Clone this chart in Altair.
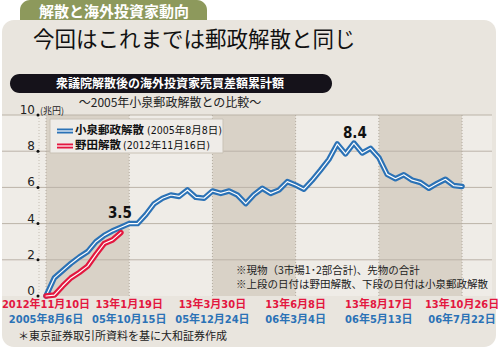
import altair as alt
import pandas as pd

# ---------------- data ----------------
weeks_koizumi = list(range(51))
koizumi = [0, 1.0, 1.4, 1.8, 2.15, 2.45, 3.0, 3.35, 3.6, 3.8,
           4.0, 4.0, 4.5, 5.1, 5.4, 5.58, 5.5, 5.86, 5.45, 5.4,
           5.8, 5.67, 5.8, 5.58, 5.1, 5.6, 5.95, 5.67, 5.86, 6.32,
           6.13, 5.9, 6.4, 6.96, 7.55, 8.4, 7.85, 8.45, 7.9, 8.16,
           7.65, 6.72, 6.48, 6.7, 6.4, 6.27, 5.95, 6.22, 6.45, 6.1, 6.05]
weeks_noda = list(range(10))
noda = [0, 0.05, 0.55, 1.0, 1.3, 1.65, 2.3, 2.9, 3.1, 3.5]

tick_weeks = [0, 10, 20, 30, 40, 50]
noda_dates = ["2012年11月10日", "13年1月19日", "13年3月30日", "13年6月8日", "13年8月17日", "13年10月26日"]
koizumi_dates = ["2005年8月6日", "05年10月15日", "05年12月24日", "06年3月4日", "06年5月13日", "06年7月22日"]
y_ticks = [0, 2, 4, 6, 8, 10]
grid_vals = [2, 4, 6, 8, 10]
band_start = [0, 20, 40]
band_end = [10, 30, 50]

# ---------------- style ----------------
JP = "Noto Sans CJK JP"
NUM = "'Liberation Sans Narrow', 'DejaVu Sans Condensed', 'Noto Sans CJK JP'"
BLUE = "#2b72b6"
RED = "#e3173f"
PANEL = "#e9e5de"
LIGHT = "#efece7"
SHADE = "#d9d2c7"
GRID = "#bbb3a8"

W, H = 490, 181
X_MIN, X_MAX = -5.29, 53.6
xs = alt.Scale(domain=[X_MIN, X_MAX], nice=False, zero=False)
ys = alt.Scale(domain=[0, 10], nice=False)

one = pd.DataFrame({"a": [1]})


def rect(x, x2, y, y2, color, r=0, stroke=None):
    kw = dict(color=color, cornerRadius=r)
    if stroke:
        kw.update(stroke=stroke, strokeWidth=1)
    return alt.Chart(one).mark_rect(**kw).encode(
        x=alt.value(x), x2=alt.value(x2), y=alt.value(y), y2=alt.value(y2))


def txt(s, x, y, size, color="#111", weight="normal", align="left", font=JP, baseline="middle"):
    return alt.Chart(one).mark_text(text=s, fontSize=size, color=color, fontWeight=weight,
                                    align=align, baseline=baseline, font=font).encode(
        x=alt.value(x), y=alt.value(y))


def hline(x, x2, y, color, width):
    return alt.Chart(one).mark_rule(color=color, strokeWidth=width).encode(
        x=alt.value(x), x2=alt.value(x2), y=alt.value(y))


layers = []
# tab + panel
layers.append(rect(18, 205, -115, -85, "#8d995c", r=10))
layers.append(rect(0, 494, -95, 232, PANEL, r=12))
layers.append(txt("解散と海外投資家動向", 112, -103, 15, "white", "bold", "center"))
layers.append(txt("今回はこれまでは郵政解散と同じ", 31, -74, 21.5, "#111"))
layers.append(rect(8, 330, -41, -22, "#15121a", r=9.5))
layers.append(txt("衆議院解散後の海外投資家売買差額累計額", 168, -31.5, 12, "white", "bold", "center"))
layers.append(txt("～2005年小泉郵政解散との比較～", 168, -12, 12, "#222", "normal", "center"))

# plot background and bands
layers.append(rect(0, W, 0, H, LIGHT))
bands = pd.DataFrame({"s": band_start, "e": band_end})
layers.append(alt.Chart(bands).mark_rect(color=SHADE).encode(
    x=alt.X("s:Q", scale=xs, axis=None), x2="e:Q", y=alt.value(0), y2=alt.value(H)))

# gridlines
grid = pd.DataFrame({"g": grid_vals})
layers.append(alt.Chart(grid).mark_rule(color=GRID, strokeWidth=1).encode(
    y=alt.Y("g:Q", scale=ys, axis=None), x=alt.value(0), x2=alt.value(W)))
vt = pd.DataFrame({"w": tick_weeks})
layers.append(alt.Chart(vt).mark_rule(color="#b3ab9f", strokeWidth=1, strokeDash=[1, 2]).encode(
    x=alt.X("w:Q", scale=xs, axis=None), y=alt.value(0), y2=alt.value(H)))
layers.append(alt.Chart(one).mark_rule(color="#c4bdb2", strokeWidth=1, strokeDash=[1, 2]).encode(
    x=alt.value(37), y=alt.value(0), y2=alt.value(H)))

# y labels + dots
yt = pd.DataFrame({"t": y_ticks, "lab": [str(v) for v in y_ticks]})
layers.append(alt.Chart(yt).mark_text(align="right", baseline="alphabetic", dy=-1, fontSize=12,
                                      font="'DejaVu Sans', sans-serif", color="#222").encode(
    x=alt.value(33), y=alt.Y("t:Q", scale=ys, axis=None), text="lab:N"))
layers.append(alt.Chart(yt).mark_circle(size=9, color="#111", opacity=1).encode(
    x=alt.value(36), y=alt.Y("t:Q", scale=ys, axis=None)))
layers.append(txt("(兆円)", 38, -4, 9, "#222"))

# lines
kdf = pd.DataFrame({"w": weeks_koizumi, "v": koizumi})
ndf = pd.DataFrame({"w": weeks_noda, "v": noda})
for df, col in [(kdf, BLUE), (ndf, RED)]:
    enc = dict(x=alt.X("w:Q", scale=xs, axis=None), y=alt.Y("v:Q", scale=ys, axis=None))
    layers.append(alt.Chart(df).mark_line(color=col, strokeWidth=5.5, strokeCap="round",
                                          strokeJoin="round").encode(**enc))
    layers.append(alt.Chart(df).mark_line(color="white", strokeWidth=1.2, strokeCap="round",
                                          strokeJoin="round").encode(**enc))

# value labels
lab35 = pd.DataFrame({"w": [weeks_noda[-1]], "v": [noda[-1]], "lab": ["3.5"]})
lab84 = pd.DataFrame({"w": [37], "v": [8.4], "lab": ["8.4"]})
layers.append(alt.Chart(lab35).mark_text(fontSize=15, fontWeight="bold", font=NUM, color="#111", dy=-20, dx=-1).encode(
    x=alt.X("w:Q", scale=xs, axis=None), y=alt.Y("v:Q", scale=ys, axis=None), text="lab:N"))
layers.append(alt.Chart(lab84).mark_text(fontSize=15, fontWeight="bold", font=NUM, color="#111", dy=-11, dx=1).encode(
    x=alt.X("w:Q", scale=xs, axis=None), y=alt.Y("v:Q", scale=ys, axis=None), text="lab:N"))

# legend
layers.append(rect(48, 221, 4, 38, "#efece8", stroke="#c9c2b6"))
for yy, col, name in [(16, BLUE, "小泉郵政解散"), (31, RED, "野田解散")]:
    layers.append(hline(55, 71, yy, col, 5))
    layers.append(hline(55, 71, yy, "white", 1.2))
    layers.append(txt(name, 73, yy, 11.5, "#111", "bold"))
layers.append(txt("(2005年8月8日)", 145, 16, 10.5, "#111", font=NUM))
layers.append(txt("(2012年11月16日)", 121, 31, 10.5, "#111", font=NUM))

# x date labels
xl = pd.DataFrame({"w": tick_weeks, "n": noda_dates, "k": koizumi_dates})
layers.append(alt.Chart(xl).mark_text(fontSize=11, fontWeight="bold", font=NUM, color=RED).encode(
    x=alt.X("w:Q", scale=xs, axis=None), y=alt.value(190), text="n:N"))
layers.append(alt.Chart(xl).mark_text(fontSize=11, fontWeight="bold", font=NUM, color=BLUE).encode(
    x=alt.X("w:Q", scale=xs, axis=None), y=alt.value(205), text="k:N"))

# notes
layers.append(txt("※現物（3市場1･2部合計)、先物の合計", 234, 156, 10.5, "#222"))
layers.append(txt("※上段の日付は野田解散、下段の日付は小泉郵政解散", 234, 170, 10.5, "#222"))
layers.append(txt("＊東京証券取引所資料を基に大和証券作成", 16, 222, 11, "#222"))

chart = alt.layer(*layers).properties(
    width=W, height=H,
    padding={"left": 2, "top": 115, "right": 6, "bottom": 55},
    autosize=alt.AutoSizeParams(type="none"),
    background="white",
).configure_view(stroke=None)

chart.save("out.html", embed_options={"renderer": "svg", "actions": False})
